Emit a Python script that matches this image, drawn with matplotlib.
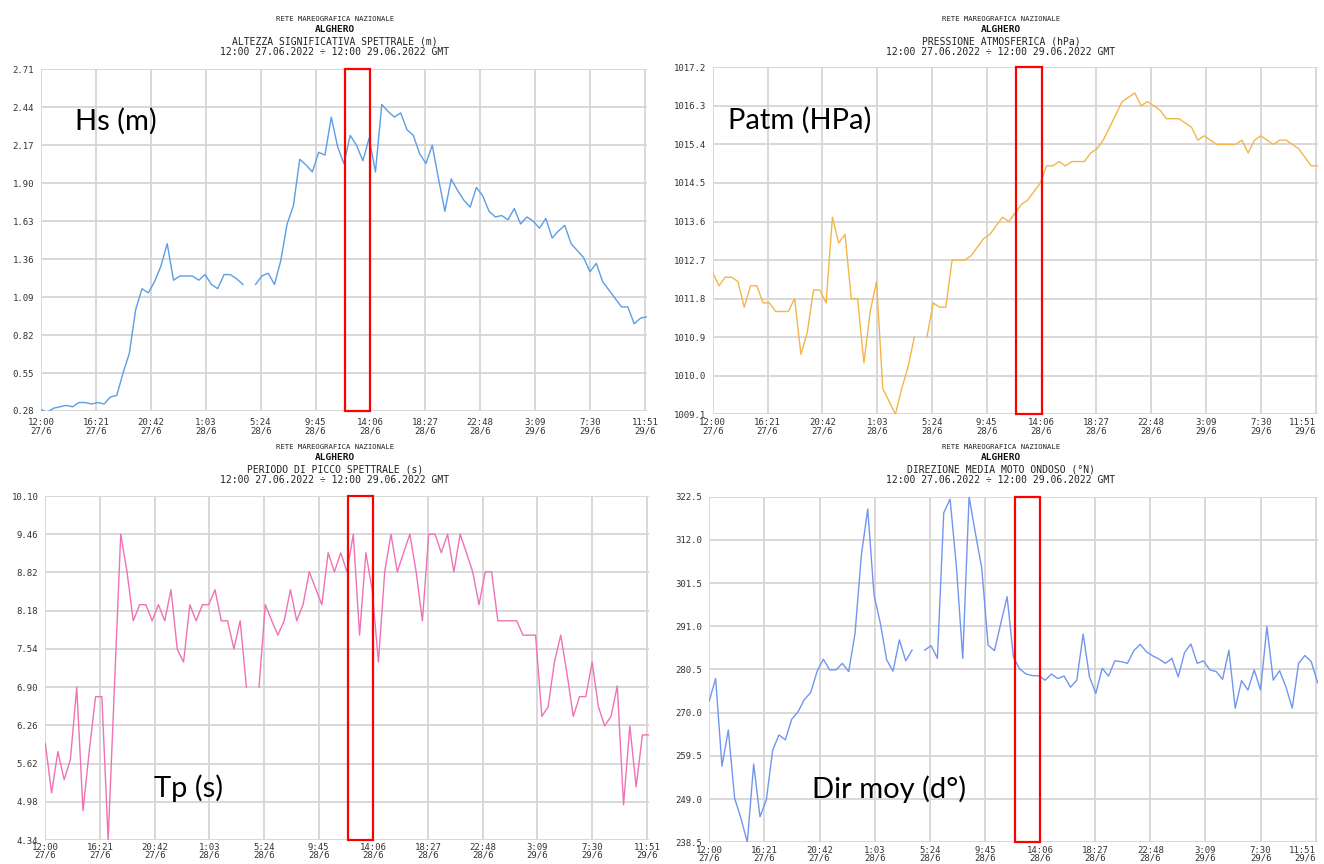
import matplotlib
matplotlib.use("Agg")
import matplotlib.pyplot as plt
import matplotlib.transforms as mtransforms
from matplotlib.patches import Rectangle
import numpy as np

nan = np.nan

# half-hourly samples, 12:00 27/06 -> 12:00 29/06 (hours from start)
hours = np.arange(97) * 0.5

hs = [0.29, 0.27, 0.30, 0.31, 0.32, 0.31, 0.34, 0.34, 0.33, 0.34,
      0.33, 0.38, 0.39, 0.55, 0.69, 1.00, 1.15, 1.12, 1.20, 1.31,
      1.47, 1.21, 1.24, 1.24, 1.24, 1.21, 1.25, 1.18, 1.15, 1.25,
      1.25, 1.22, 1.18, nan, 1.18, 1.24, 1.26, 1.18, 1.35, 1.61,
      1.74, 2.07, 2.03, 1.98, 2.12, 2.10, 2.37, 2.16, 2.04, 2.24,
      2.17, 2.06, 2.22, 1.98, 2.46, 2.41, 2.37, 2.40, 2.28, 2.24,
      2.11, 2.04, 2.17, 1.93, 1.70, 1.93, 1.85, 1.78, 1.73, 1.87,
      1.81, 1.70, 1.66, 1.67, 1.64, 1.72, 1.61, 1.66, 1.63, 1.58,
      1.65, 1.51, 1.56, 1.60, 1.47, 1.42, 1.37, 1.27, 1.33, 1.20,
      1.14, 1.08, 1.02, 1.02, 0.90, 0.94, 0.95]

patm = [1012.4, 1012.1, 1012.3, 1012.3, 1012.2, 1011.6, 1012.1, 1012.1, 1011.7, 1011.7,
        1011.5, 1011.5, 1011.5, 1011.8, 1010.5, 1011.0, 1012.0, 1012.0, 1011.7, 1013.7,
        1013.1, 1013.3, 1011.8, 1011.8, 1010.3, 1011.5, 1012.2, 1009.7, 1009.4, 1009.1,
        1009.7, 1010.2, 1010.9, nan, 1010.9, 1011.7, 1011.6, 1011.6, 1012.7, 1012.7,
        1012.7, 1012.8, 1013.0, 1013.2, 1013.3, 1013.5, 1013.7, 1013.6, 1013.8, 1014.0,
        1014.1, 1014.3, 1014.5, 1014.9, 1014.9, 1015.0, 1014.9, 1015.0, 1015.0, 1015.0,
        1015.2, 1015.3, 1015.5, 1015.8, 1016.1, 1016.4, 1016.5, 1016.6, 1016.3, 1016.4,
        1016.3, 1016.2, 1016.0, 1016.0, 1016.0, 1015.9, 1015.8, 1015.5, 1015.6, 1015.5,
        1015.4, 1015.4, 1015.4, 1015.4, 1015.5, 1015.2, 1015.5, 1015.6, 1015.5, 1015.4,
        1015.5, 1015.5, 1015.4, 1015.3, 1015.1, 1014.9, 1014.9]

tp = [5.96, 5.13, 5.82, 5.35, 5.69, 6.90, 4.83, 5.84, 6.74, 6.74,
      4.34, 6.90, 9.46, 8.83, 8.01, 8.28, 8.28, 8.01, 8.28, 8.01,
      8.53, 7.53, 7.32, 8.28, 8.01, 8.28, 8.28, 8.53, 8.01, 8.01,
      7.54, 8.01, 6.90, nan, 6.90, 8.28, 8.02, 7.77, 8.01, 8.53,
      8.01, 8.28, 8.83, 8.55, 8.28, 9.15, 8.83, 9.15, 8.83, 9.46,
      7.77, 9.15, 8.53, 7.32, 8.83, 9.46, 8.83, 9.15, 9.46, 8.83,
      8.01, 9.46, 9.46, 9.15, 9.46, 8.83, 9.46, 9.15, 8.83, 8.28,
      8.83, 8.83, 8.01, 8.01, 8.01, 8.01, 7.77, 7.77, 7.77, 6.41,
      6.57, 7.32, 7.77, 7.13, 6.41, 6.74, 6.74, 7.32, 6.57, 6.25,
      6.41, 6.92, 4.93, 6.25, 5.23, 6.10, 6.10]

dirm = [272.9, 278.3, 257.0, 265.8, 249.2, 244.3, 238.5, 257.5, 244.7, 248.8,
        260.9, 264.6, 263.4, 268.4, 270.2, 273.2, 274.9, 280.0, 283.0, 280.4,
        280.4, 282.0, 280.0, 289.3, 308.3, 319.5, 298.6, 291.7, 282.8, 280.1,
        287.7, 282.6, 285.2, nan, 285.2, 286.3, 283.2, 318.6, 321.9, 305.5,
        283.2, 322.5, 313.6, 305.1, 286.4, 285.1, 291.7, 298.2, 283.5, 280.6,
        279.4, 279.0, 279.0, 277.9, 279.4, 278.3, 278.9, 276.2, 277.9, 289.1,
        278.7, 274.7, 280.8, 278.9, 282.6, 282.4, 282.0, 285.1, 286.6, 284.8,
        283.8, 283.0, 282.0, 283.2, 278.7, 284.6, 286.7, 282.0, 282.6, 280.4,
        280.0, 278.1, 285.2, 271.1, 277.8, 275.5, 280.4, 275.5, 290.9, 277.9,
        280.2, 276.3, 271.1, 282.0, 283.9, 282.4, 277.3]

xtick_hours = [0, 4.35, 8.7, 13.05, 17.4, 21.75, 26.1, 30.45, 34.8, 39.15, 43.5, 47.85]
xtick_labels = ["12:00\n27/6", "16:21\n27/6", "20:42\n27/6", "1:03\n28/6", "5:24\n28/6",
                "9:45\n28/6", "14:06\n28/6", "18:27\n28/6", "22:48\n28/6", "3:09\n29/6",
                "7:30\n29/6", "11:51\n29/6"]

hs_ticks = [0.28, 0.55, 0.82, 1.09, 1.36, 1.63, 1.90, 2.17, 2.44, 2.71]
patm_ticks = [1009.1, 1010.0, 1010.9, 1011.8, 1012.7, 1013.6, 1014.5, 1015.4, 1016.3, 1017.2]
tp_ticks = [4.34, 4.98, 5.62, 6.26, 6.90, 7.54, 8.18, 8.82, 9.46, 10.10]
dir_ticks = [238.5, 249.0, 259.5, 270.0, 280.5, 291.0, 301.5, 312.0, 322.5]

titles = ["ALTEZZA SIGNIFICATIVA SPETTRALE (m)", "PRESSIONE ATMOSFERICA (hPa)",
          "PERIODO DI PICCO SPETTRALE (s)", "DIREZIONE MEDIA MOTO ONDOSO (\u00b0N)"]
period = "12:00 27.06.2022 \u00f7 12:00 29.06.2022 GMT"
labels = ["Hs (m)", "Patm (HPa)", "Tp (s)", "Dir moy (d\u00b0)"]
red_box = (24.1, 26.1)  # hours covered by the red highlight

W, H = 1324, 864
fig = plt.figure(figsize=(W / 100, H / 100), dpi=100)
mono = "DejaVu Sans Mono"


def panel(box, y, ticks, fmt, color, title, title_y, title_x, label, label_xy,
          xpad=5, lsp=1.0, right_edge=False):
    x0, x1, yt, yb = box
    ax = fig.add_axes([x0 / W, 1 - yb / H, (x1 - x0) / W, (yb - yt) / H])
    ax.plot(hours, y, color=color, lw=1.0)
    ax.set_xlim(0, 48)
    ax.set_ylim(ticks[0], ticks[-1])
    ax.set_xticks(xtick_hours)
    ax.set_xticklabels(xtick_labels, fontsize=6.5, family=mono, color="#333333", linespacing=lsp)
    if right_edge:
        # keep the last label inside the canvas
        ax.get_xticklabels()[-1].set_ha("right")
    ax.set_yticks(ticks)
    ax.set_yticklabels([fmt % t for t in ticks], fontsize=6.5, family=mono, color="#333333")
    ax.tick_params(length=0, pad=5)
    ax.tick_params(axis="x", pad=xpad)
    ax.grid(True, color="#d6d6d6", lw=1.3)
    ax.set_axisbelow(True)
    for s in ax.spines.values():
        s.set_visible(False)
    trans = mtransforms.blended_transform_factory(ax.transData, ax.transAxes)
    ax.add_patch(Rectangle((red_box[0], 0), red_box[1] - red_box[0], 1, transform=trans,
                           fill=False, edgecolor="#ff0000", lw=1.6, clip_on=False, zorder=5))
    cx = title_x / W
    fig.text(cx, 1 - title_y / H, "RETE MAREOGRAFICA NAZIONALE", ha="center", va="center",
             family=mono, fontsize=5.2, color="#222222")
    fig.text(cx, 1 - (title_y + 10) / H, "ALGHERO", ha="center", va="center",
             family=mono, fontsize=6.8, weight="bold", color="#111111")
    fig.text(cx, 1 - (title_y + 22) / H, title, ha="center", va="center",
             family=mono, fontsize=7, color="#222222")
    fig.text(cx, 1 - (title_y + 33) / H, period, ha="center", va="center",
             family=mono, fontsize=7, color="#222222")
    fig.text(label_xy[0] / W, 1 - label_xy[1] / H, label, ha="left", va="baseline",
             family=["Lato", "DejaVu Sans"], fontsize=21, color="black")
    return ax


panel((41, 646.8, 69.3, 411), hs, hs_ticks, "%.2f", "#5a9ee6",
      titles[0], 19, 335, labels[0], (75, 130))
panel((712.7, 1317.5, 67.3, 414.3), patm, patm_ticks, "%.1f", "#f4b54a",
      titles[1], 19, 1001, labels[1], (728, 129), xpad=3, lsp=0.9, right_edge=True)
panel((45.3, 648.7, 496, 840), tp, tp_ticks, "%.2f", "#ef72b6",
      titles[2], 447, 335, labels[2], (154, 797), xpad=2, lsp=0.85)
panel((709.3, 1317.6, 496.7, 842.3), dirm, dir_ticks, "%.1f", "#7196ef",
      titles[3], 447, 1001, labels[3], (812, 798), xpad=3, lsp=0.75, right_edge=True)

fig.savefig("out.png", dpi=100)
